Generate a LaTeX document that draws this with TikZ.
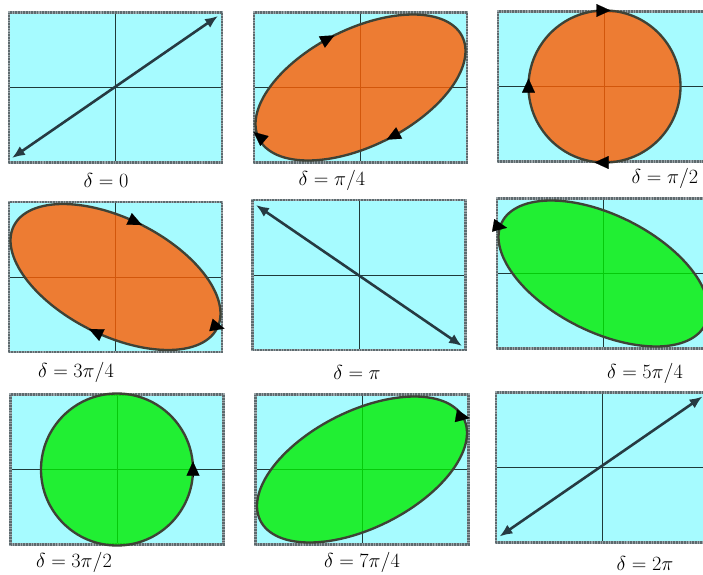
\documentclass[tikz,border=0pt]{standalone}
\usepackage{tikz}
\usetikzlibrary{arrows.meta}
\definecolor{pzCyan}{HTML}{A6FBFF}
\definecolor{pzFrame}{HTML}{5E6A6E}
\definecolor{pzFrameLt}{HTML}{9AA4A8}
\definecolor{pzAxis}{HTML}{1F3A3A}
\definecolor{pzOrange}{HTML}{FF5D00}
\definecolor{pzGreen}{HTML}{00ED00}
\definecolor{pzEdge}{HTML}{3E4236}
\definecolor{pzLine}{HTML}{263A42}
% one scope frame: cyan box, cross, dotted border
\newcommand{\pzframe}{%
  \fill[pzCyan] (-106.5,-75) rectangle (106.5,75);
  \draw[crossax] (-106.5,0) -- (106.5,0) (0,-75) -- (0,75);
  \draw[pzbox] (-106.5,-75) rectangle (106.5,75);
  \draw[pzboxdash] (-106.5,-75) rectangle (106.5,75);}
\newcommand{\pzhead}[3]{\draw[headmark] (#1,#2) ++(#3+180:7) -- ++(#3:14);}

\begin{document}
\begin{tikzpicture}[x=0.03cm, y=0.03cm,
  crossax/.style={draw=pzAxis, line width=0.8pt},
  pzbox/.style={draw=pzFrameLt, line width=2.4pt},
  pzboxdash/.style={draw=pzFrame, line width=2.4pt, dash pattern=on 1.4pt off 0.9pt},
  lefthand/.style={fill=pzOrange, fill opacity=0.8, draw=pzEdge, line width=2pt},
  righthand/.style={lefthand, fill=pzGreen},
  linpol/.style={{Latex[length=11pt,width=9pt]}-{Latex[length=11pt,width=9pt]}, draw=pzLine, line width=2.2pt},
  headmark/.style={-{Triangle[length=12pt,width=11pt]}, draw=black, line width=0.1pt},
  lbl/.style={font=\fontsize{18.5}{21}\selectfont, inner sep=0pt}
]
  \useasboundingbox (0,0) rectangle (703,574);
  \clip (0,0) rectangle (703,574);

  % row 1
  \begin{scope}[shift={(115.5,486.5)}]
    \pzframe
    \draw[linpol] (-103.5,-70.5) -- (102.5,71.5);
  \end{scope}
  \begin{scope}[shift={(360.5,486.5)}]
    \pzframe
    \filldraw[lefthand] plot[smooth, samples=120, domain=0:360] ({105*cos(\x)},{73*cos(\x+60)}) -- cycle;
    \pzhead{-32.4}{48.8}{28}
    \pzhead{32.4}{-48.8}{208}
    \pzhead{-101.5}{-49}{140}
  \end{scope}
  \begin{scope}[shift={(604.5,487.5)}]
    \pzframe
    \filldraw[lefthand] (0,0) circle (76);
    \pzhead{-1}{76}{0}
    \pzhead{-76}{1}{90}
    \pzhead{-3}{-76}{180}
  \end{scope}

  % row 2
  \begin{scope}[shift={(115.5,297)}]
    \pzframe
    \filldraw[lefthand] plot[smooth, samples=120, domain=0:360] ({105*cos(\x)},{73*cos(\x+120)}) -- cycle;
    \pzhead{20.0}{55.1}{-25}
    \pzhead{102.3}{-49.8}{-15}
    \pzhead{-20.0}{-55.1}{155}
  \end{scope}
  \begin{scope}[shift={(359,299)}]
    \pzframe
    \draw[linpol] (-103,70) -- (103,-71);
  \end{scope}
  \begin{scope}[shift={(603.5,300.5)}]
    \pzframe
    \filldraw[righthand] plot[smooth, samples=120, domain=0:360] ({105*cos(\x)},{73*cos(\x+240)}) -- cycle;
    \pzhead{-103.4}{46.9}{-10}
  \end{scope}

  % row 3
  \begin{scope}[shift={(117,104.5)}]
    \pzframe
    \filldraw[righthand] (0,0) circle (76);
    \pzhead{76}{1}{90}
  \end{scope}
  \begin{scope}[shift={(362,104.5)}]
    \pzframe
    \filldraw[righthand] plot[smooth, samples=120, domain=0:360] ({105*cos(\x)},{73*cos(\x+300)}) -- cycle;
    \pzhead{100.9}{52.5}{-10}
  \end{scope}
  \begin{scope}[shift={(602.5,106.5)}]
    \pzframe
    \draw[linpol] (-103,-69) -- (100,71);
  \end{scope}

  % labels
  \node[lbl] (lab0)   at (106,394) {$\delta = 0$};
  \node[lbl] (labq)   at (332,394) {$\delta = \pi/4$};
  \node[lbl] (labh)   at (665,396) {$\delta = \pi/2$};
  \node[lbl] (lab3q)  at (76,202)  {$\delta = 3\pi/4$};
  \node[lbl] (labpi)  at (357,202) {$\delta = \pi$};
  \node[lbl] (lab5q)  at (645,201) {$\delta = 5\pi/4$};
  \node[lbl] (lab3h)  at (74,12)   {$\delta = 3\pi/2$};
  \node[lbl] (lab7q)  at (362,12)  {$\delta = 7\pi/4$};
  \node[lbl] (lab2pi) at (645,11)  {$\delta = 2\pi$};
\end{tikzpicture}
\end{document}
